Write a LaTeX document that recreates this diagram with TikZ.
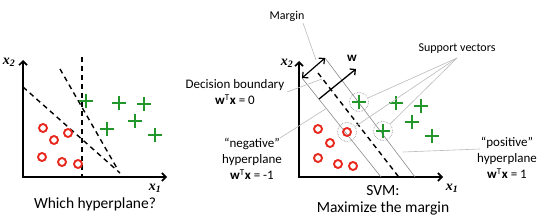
\documentclass[tikz,border=0pt]{standalone}
\usepackage{fontspec}
\setmainfont{Carlito}
\newfontfamily\axisfont{Liberation Serif}
\usepackage{tikz}
\usepackage{xcolor}
\usetikzlibrary{arrows.meta,positioning,shapes,calc}
\definecolor{ringred}{HTML}{E8281E}
\definecolor{plusgreen}{HTML}{23962A}
\definecolor{leadgray}{HTML}{BBBBBB}
\definecolor{margray}{HTML}{8A8A8A}
\tikzset{
  axline/.style={line width=1.6pt,{Straight Barb[length=4pt,width=8pt]}-{Straight Barb[length=4pt,width=8pt]}},
  guess/.style={line width=1.4pt,dash pattern=on 5pt off 4pt},
  ringmark/.style={circle,draw=ringred,line width=1.9pt,minimum size=8pt,inner sep=0pt},
  plusmark/.style={cross out,draw=plusgreen,line width=1.8pt,minimum size=7.5pt,inner sep=0pt,rotate=45},
  svring/.style={circle,draw=gray,densely dotted,line width=0.6pt,minimum size=19pt,inner sep=0pt},
  leader/.style={leadgray,line width=0.6pt},
  marline/.style={margray,line width=0.6pt},
  vecarrow/.style={line width=1.3pt,-{Straight Barb[length=4pt,width=8pt]}},
  lbl/.style={font=\fontsize{13}{16}\selectfont,align=center,inner sep=0pt},
  smlbl/.style={font=\fontsize{12}{16}\selectfont,align=center,inner sep=0pt},
  caption/.style={font=\fontsize{15.5}{17}\selectfont,align=center,inner sep=0pt},
  axlbl/.style={font=\fontsize{14}{14}\selectfont\axisfont\bfseries\itshape,inner sep=0pt},
}
\begin{document}
\begin{tikzpicture}[x=1pt,y=-1pt]
  \useasboundingbox (0,0) rectangle (543,222);

  % left panel: which hyperplane?
  \coordinate (lo) at (23,177);
  \coordinate (ltop) at (23,60);
  \coordinate (lend) at (167,177);
  \draw[axline] (ltop) -- (lo) -- (lend);
  \node[axlbl] (lx2) at (9,62) {x\textsubscript{2}};
  \node[axlbl] (lx1) at (155,188) {x\textsubscript{1}};
  \node[caption] (lq) at (95,204) {Which hyperplane?};

  \coordinate (la1) at (23,87);  \coordinate (la2) at (120,173);
  \coordinate (lb1) at (60,69);  \coordinate (lb2) at (118,170);
  \coordinate (lc1) at (82,57);  \coordinate (lc2) at (82,177);
  \draw[guess] (la1) -- (la2);
  \draw[guess] (lb1) -- (lb2);
  \draw[guess] (lc1) -- (lc2);

  \foreach \x/\y [count=\i] in {43/128,54/140,68/133,42/157,62/162,78/164}
    \node[ringmark] (lr\i) at (\x,\y) {};
  \foreach \x/\y [count=\i] in {86/101,119/103,144/104,135/121,107/129,155/135}
    \node[plusmark] (lp\i) at (\x,\y) {};

  % right panel: SVM
  \coordinate (ro) at (299,177);
  \coordinate (rtop) at (299,61);
  \coordinate (rend) at (443,177);
  \draw[axline] (rtop) -- (ro) -- (rend);
  \node[axlbl] (rx2) at (287,63) {x\textsubscript{2}};
  \node[axlbl] (rx1) at (452,188) {x\textsubscript{1}};
  \node[caption] (svm) at (383,200) {SVM:\\Maximize the margin};

  % decision boundary and margin hyperplanes
  \coordinate (db1) at (318,73);  \coordinate (db2) at (398,176);
  \coordinate (ng1) at (302,78);  \coordinate (ng2) at (381,177);
  \coordinate (ps1) at (325,58);  \coordinate (ps2) at (415,177);
  \draw[marline] (ng1) -- (ng2);
  \draw[marline] (ps1) -- (ps2);
  \draw[guess] (db1) -- (db2);
  \draw[line width=1.2pt,{Straight Barb[length=4pt,width=8pt]}-{Straight Barb[length=4pt,width=8pt]}] (ng1) -- (ps1);

  \coordinate (w0) at (319,99);
  \coordinate (w1) at (356,69);
  \draw[vecarrow] (w0) -- (w1);
  \node[font=\fontsize{13}{13}\selectfont\bfseries,inner sep=0pt] (wl) at (352,58) {w};

  \foreach \x/\y [count=\i] in {318/129,330/143,318/158,338/164,353/166}
    \node[ringmark] (rr\i) at (\x,\y) {};
  \foreach \x/\y [count=\i] in {396/103,421/106,412/122,432/136}
    \node[plusmark] (rp\i) at (\x,\y) {};

  % support vectors
  \node[plusmark] (sp1) at (359,102) {};
  \node[plusmark] (sp2) at (383,131) {};
  \node[ringmark] (sn1) at (347,132) {};
  \node[svring] (sv1) at (sp1) {};
  \node[svring] (sv2) at (sp2) {};
  \node[svring] (sv3) at (sn1) {};

  % labels with leaders
  \node[smlbl] (marl) at (287,16) {Margin};
  \coordinate (marst) at (303,23);
  \coordinate (marend) at (316,60);
  \draw[leader] (marst) -- (marend);

  \node[smlbl] (supl) at (457,49) {Support vectors};
  \coordinate (supst) at (457,58);
  \draw[leader] (supst) -- (sv1);
  \draw[leader] (supst) -- (sv3);
  \draw[leader] (supst) -- (sv2);

  \node[lbl] (dbl) at (235,92) {Decision boundary\\\textbf{w}\textsuperscript{T}\textbf{x} = 0};
  \coordinate (dbst) at (287,92);
  \coordinate (dbend) at (322,79);
  \draw[leader] (dbst) -- (dbend);

  \node[lbl] (ngl) at (252,159) {“negative”\\hyperplane\\\textbf{w}\textsuperscript{T}\textbf{x} = -1};
  \coordinate (ngst) at (280,138);
  \coordinate (ngend) at (327,108);
  \draw[leader] (ngst) -- (ngend);

  \node[lbl] (psl) at (507,158) {“positive”\\hyperplane\\\textbf{w}\textsuperscript{T}\textbf{x} = 1};
  \coordinate (psst) at (480,149);
  \coordinate (psend) at (403,152);
  \draw[leader] (psst) -- (psend);
\end{tikzpicture}
\end{document}
